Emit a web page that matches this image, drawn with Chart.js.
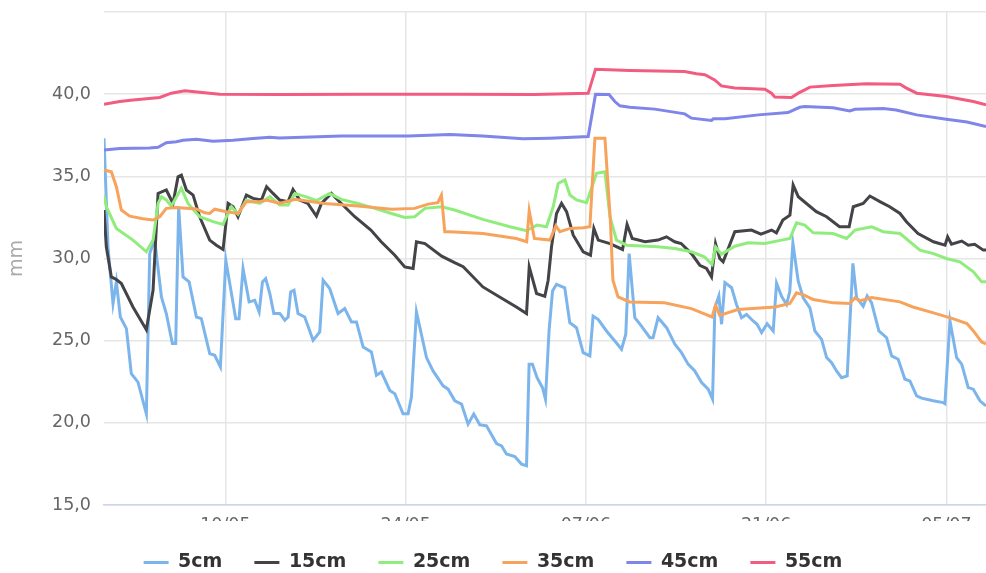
<!DOCTYPE html>
<html>
<head>
<meta charset="utf-8">
<script src="https://cdn.jsdelivr.net/npm/chart.js@4/dist/chart.umd.min.js"></script>
<style>
  html, body { margin: 0; padding: 0; background: #fff; }
  #box { width: 986px; height: 573px; }
</style>
</head>
<body>
<div id="box"><canvas id="grafico"></canvas></div>
<script>
// x = days since 01/05
var xMin = -0.43;
var xMax = 68.08;
var tickDays = [9, 23, 37, 51, 65];
var tickLabels = ["10/05", "24/05", "07/06", "21/06", "05/07"];
var yTicks = [15, 20, 25, 30, 35, 40, 45];

var labels = ["5cm", "15cm", "25cm", "35cm", "45cm", "55cm"];
var colors = ["#7cb5ec", "#434348", "#90ed7d", "#f7a35c", "#8085e9", "#f15c80"];

var days5 = [-0.43, -0.12, 0.27, 0.53, 0.84, 1.31, 1.69, 2.21, 2.86, 3.12, 3.51, 4.03, 4.41, 4.88, 5.14, 5.37, 5.71, 6.18, 6.75, 7.13,
  7.78, 8.17, 8.61, 9.03, 9.47, 9.8, 10.06, 10.37, 10.84, 11.28, 11.62, 11.88, 12.13, 12.45, 12.76, 13.22, 13.35, 13.61, 13.87, 14.07,
  14.33, 14.64, 15.16, 15.81, 16.33, 16.59, 17.1, 17.75, 18.27, 18.79, 19.18, 19.7, 20.34, 20.73, 21.12, 21.77, 22.16, 22.8, 23.19, 23.45,
  23.84, 24.62, 25.13, 25.91, 26.3, 26.82, 27.34, 27.85, 28.29, 28.76, 29.28, 30.06, 30.45, 30.83, 31.48, 32.0, 32.39, 32.59, 32.85, 33.21,
  33.63, 33.86, 34.14, 34.41, 34.72, 35.36, 35.75, 36.27, 36.79, 37.31, 37.56, 37.95, 38.6, 39.25, 39.77, 40.1, 40.36, 40.8, 41.32, 41.97,
  42.22, 42.61, 43.27, 43.91, 44.43, 44.94, 45.46, 45.99, 46.5, 46.84, 47.02, 47.33, 47.54, 47.8, 48.32, 48.7, 49.09, 49.48, 49.99, 50.3,
  50.65, 51.08, 51.55, 51.81, 52.2, 52.59, 52.84, 53.08, 53.49, 53.88, 54.4, 54.79, 55.31, 55.7, 56.09, 56.47, 56.86, 57.3, 57.74, 58.03,
  58.54, 58.85, 59.19, 59.76, 60.36, 60.75, 61.26, 61.78, 62.17, 62.69, 63.08, 63.98, 64.76, 64.89, 65.28, 65.8, 66.19, 66.7, 67.09, 67.61, 68.08];
var val5 = [37.32, 30.71, 27.26, 28.58, 26.44, 25.73, 22.99, 22.48, 20.55, 30.3, 31.12, 27.66, 26.65, 24.82, 24.82, 33.15, 28.88, 28.58, 26.44, 26.34,
  24.21, 24.11, 23.4, 29.9, 27.87, 26.34, 26.34, 29.39, 27.36, 27.46, 26.75, 28.58, 28.78, 27.87, 26.65, 26.65, 26.54, 26.24, 26.44, 27.97,
  28.07, 26.65, 26.44, 25.02, 25.53, 28.68, 28.17, 26.65, 26.95, 26.14, 26.14, 24.61, 24.31, 22.89, 23.09, 21.97, 21.77, 20.55, 20.55, 21.57,
  26.75, 23.97, 23.16, 22.25, 22.05, 21.34, 21.14, 19.92, 20.53, 19.88, 19.82, 18.74, 18.6, 18.1, 17.95, 17.49, 17.39, 23.57, 23.57, 22.75,
  22.14, 21.44, 25.59, 28.02, 28.43, 28.22, 26.09, 25.79, 24.27, 24.07, 26.5, 26.3, 25.59, 24.98, 24.48, 25.39, 30.3, 26.4, 25.89, 25.18,
  25.18, 26.4, 25.79, 24.78, 24.27, 23.57, 23.16, 22.45, 22.05, 21.44, 27.0, 27.72, 26.0, 28.53, 28.22, 27.2, 26.4, 26.6, 26.2, 26.0,
  25.49, 26.03, 25.59, 28.5, 27.7, 27.2, 28.0, 30.94, 28.63, 27.61, 27.0, 25.59, 25.08, 23.97, 23.66, 23.16, 22.75, 22.86, 29.7, 27.61,
  27.1, 27.72, 27.31, 25.59, 25.18, 24.07, 23.87, 22.65, 22.55, 21.64, 21.5, 21.34, 21.23, 21.17, 26.2, 23.97, 23.57, 22.14, 22.05, 21.34, 21.03];

var days15 = [-0.43, -0.25, 0.14, 0.53, 0.92, 1.82, 2.86, 3.38, 3.77, 4.41, 4.93, 5.32, 5.58, 5.97, 6.49, 7.0, 7.78, 8.3, 8.82, 9.21,
  9.6, 9.98, 10.63, 11.15, 11.8, 12.2, 12.7, 13.22, 13.87, 14.25, 14.77, 15.4, 16.07, 16.46, 17.23, 18.0, 19.05, 20.3, 21.1, 22.16,
  22.93, 23.58, 23.84, 24.5, 25.8, 26.8, 27.47, 29.0, 30.3, 31.6, 32.39, 32.6, 33.17, 33.81, 34.07, 34.33, 34.72, 35.11, 35.5, 36.02,
  36.79, 37.36, 37.62, 37.96, 38.87, 39.85, 40.2, 40.6, 41.6, 42.6, 43.26, 43.9, 44.4, 45.2, 45.85, 46.37, 46.76, 47.07, 47.4, 47.66,
  48.57, 49.86, 50.6, 51.42, 51.8, 52.3, 52.85, 53.1, 53.5, 54.9, 55.7, 56.7, 57.45, 57.77, 58.54, 59.06, 59.84, 60.6, 61.4, 61.9,
  62.8, 64.0, 64.9, 65.1, 65.4, 66.2, 66.7, 67.2, 67.87, 68.08];
var val15 = [32.95, 30.71, 28.88, 28.72, 28.48, 27.05, 25.67, 28.07, 33.96, 34.17, 33.35, 34.98, 35.08, 34.17, 33.86, 32.54, 31.12, 30.81, 30.55, 33.35,
  33.15, 32.54, 33.86, 33.66, 33.56, 34.37, 33.96, 33.56, 33.46, 34.2, 33.56, 33.35, 32.58, 33.35, 33.96, 33.35, 32.54, 31.73, 31.02, 30.2,
  29.49, 29.39, 31.02, 30.91, 30.14, 29.75, 29.5, 28.27, 27.66, 27.05, 26.65, 29.49, 27.87, 27.7, 28.68, 30.71, 32.74, 33.35, 32.85, 31.42,
  30.41, 30.2, 31.83, 31.12, 30.91, 30.55, 32.07, 31.22, 31.02, 31.12, 31.32, 31.02, 30.91, 30.3, 29.59, 29.39, 28.88, 30.91, 30.0, 29.8,
  31.63, 31.73, 31.48, 31.73, 31.56, 32.34, 32.64, 34.47, 33.76, 32.85, 32.54, 31.93, 31.93, 33.15, 33.35, 33.8, 33.46, 33.15, 32.74, 32.24,
  31.52, 31.02, 30.81, 31.32, 30.87, 31.06, 30.81, 30.87, 30.51, 30.51];

var days25 = [-0.43, -0.25, 0.53, 1.82, 2.86, 3.38, 3.77, 4.03, 4.41, 4.8, 5.58, 6.1, 7.0, 8.04, 8.82, 9.08, 9.47, 9.98, 10.63, 11.67,
  12.45, 13.22, 13.87, 14.4, 15.4, 16.07, 17.1, 18.0, 19.3, 20.6, 21.9, 22.93, 23.7, 24.5, 25.8, 26.8, 29.0, 31.1, 32.39, 33.2,
  33.94, 34.46, 34.85, 35.37, 35.76, 36.27, 37.05, 37.83, 38.48, 38.87, 39.38, 40.16, 42.6, 43.9, 45.2, 46.2, 46.8, 47.07, 47.53, 48.57,
  49.6, 50.9, 52.2, 52.85, 53.36, 54.0, 54.66, 56.2, 57.25, 57.9, 59.2, 60.1, 61.4, 62.95, 64.0, 65.0, 66.05, 67.1, 67.74, 68.08];
var val25 = [33.86, 33.15, 31.83, 31.12, 30.41, 31.12, 33.35, 33.76, 33.56, 33.19, 34.27, 33.35, 32.54, 32.24, 32.07, 32.54, 33.15, 32.7, 33.56, 33.35,
  33.76, 33.25, 33.25, 33.96, 33.72, 33.52, 33.96, 33.6, 33.35, 33.05, 32.74, 32.5, 32.54, 33.05, 33.15, 32.95, 32.38, 31.93, 31.69, 32.03,
  31.93, 33.15, 34.57, 34.78, 33.86, 33.56, 33.4, 35.18, 35.28, 32.54, 31.12, 30.81, 30.71, 30.61, 30.41, 30.1, 29.65, 30.71, 30.26, 30.75,
  30.96, 30.91, 31.12, 31.22, 32.17, 32.03, 31.56, 31.52, 31.22, 31.73, 31.93, 31.63, 31.52, 30.51, 30.3, 30.0, 29.8, 29.19, 28.58, 28.58];

var days35 = [-0.43, 0.14, 0.53, 0.92, 1.57, 2.6, 3.38, 3.9, 4.41, 5.19, 6.75, 7.4, 7.78, 8.17, 9.08, 9.98, 10.63, 11.67, 12.2, 13.22,
  14.4, 16.7, 19.3, 21.9, 23.7, 24.75, 25.5, 25.78, 26.04, 26.43, 29.0, 31.6, 32.4, 32.6, 33.0, 34.2, 34.67, 34.98, 35.76, 36.8,
  37.31, 37.7, 38.48, 38.9, 39.1, 39.5, 40.4, 43.1, 45.2, 46.8, 47.07, 47.4, 48.8, 51.7, 52.85, 53.36, 54.0, 54.66, 56.2, 57.5,
  57.9, 58.3, 59.2, 61.4, 62.4, 64.0, 65.5, 66.6, 67.1, 67.74, 68.08];
var val35 = [35.39, 35.28, 34.37, 32.95, 32.58, 32.42, 32.34, 32.54, 33.05, 33.11, 33.01, 32.78, 32.74, 33.0, 32.85, 32.74, 33.46, 33.46, 33.56, 33.35,
  33.6, 33.35, 33.19, 32.99, 33.05, 33.31, 33.4, 33.86, 31.63, 31.63, 31.52, 31.22, 31.02, 32.9, 31.22, 31.12, 31.99, 31.63, 31.83, 31.87,
  31.93, 37.32, 37.32, 32.34, 28.68, 27.66, 27.36, 27.3, 26.95, 26.44, 27.15, 26.54, 26.89, 27.05, 27.26, 27.91, 27.76, 27.5, 27.3, 27.26,
  27.6, 27.42, 27.62, 27.36, 27.05, 26.69, 26.34, 26.04, 25.59, 24.92, 24.8];

var days45 = [-0.43, 0.79, 3.1, 3.77, 4.41, 5.19, 5.71, 6.75, 8.04, 9.6, 11.15, 12.45, 13.2, 18.0, 23.2, 26.43, 29.0, 32.1, 34.2, 37.18,
  37.75, 38.8, 39.25, 39.64, 40.4, 42.35, 44.68, 45.2, 46.76, 46.9, 47.8, 50.4, 52.7, 53.6, 54.0, 56.2, 57.5, 57.9, 60.1, 61.1,
  62.7, 65.0, 66.6, 68.08];
var val45 = [36.6, 36.7, 36.73, 36.77, 37.05, 37.11, 37.2, 37.26, 37.13, 37.2, 37.3, 37.38, 37.34, 37.46, 37.46, 37.54, 37.46, 37.28, 37.32, 37.42,
  40.0, 39.98, 39.55, 39.29, 39.2, 39.09, 38.8, 38.54, 38.4, 38.5, 38.5, 38.74, 38.88, 39.2, 39.25, 39.17, 38.98, 39.08, 39.13, 39.04,
  38.74, 38.48, 38.31, 38.03];

var days55 = [-0.43, 0.79, 1.82, 3.9, 4.8, 5.84, 7.0, 8.56, 13.2, 20, 27, 33, 37.18, 37.75, 40.4, 44.68, 45.59, 46.24, 47.0, 47.53,
  48.57, 50.9, 51.42, 51.68, 52.97, 53.5, 54.0, 54.4, 56.2, 58.8, 61.4, 61.9, 62.7, 65.0, 67.1, 68.08];
var val55 = [39.39, 39.55, 39.65, 39.8, 40.06, 40.2, 40.12, 40.0, 39.98, 40.0, 40.0, 39.98, 40.05, 41.52, 41.44, 41.38, 41.24, 41.18, 40.87, 40.5,
  40.37, 40.3, 40.06, 39.82, 39.8, 40.06, 40.26, 40.43, 40.53, 40.63, 40.61, 40.37, 40.06, 39.86, 39.55, 39.35];

var allDays = [days5, days15, days25, days35, days45, days55];
var allVals = [val5, val15, val25, val35, val45, val55];

function serie(i) {
  var pts = allDays[i].map(function(d, k) { return { x: d, y: allVals[i][k] }; });
  return {
    label: labels[i],
    data: pts,
    borderColor: colors[i],
    backgroundColor: colors[i],
    borderWidth: 3,
    pointRadius: 0,
    pointHoverRadius: 0,
    tension: 0,
    order: labels.length - i
  };
}

var datasets = [];
for (var i = 0; i < labels.length; i++) {
  datasets.push(serie(i));
}

Chart.defaults.font.family = "'DejaVu Sans', sans-serif";

window.onload = function() {
  var ctx = document.getElementById("grafico").getContext("2d");
  var myChart = new Chart(ctx, {
    type: "line",
    data: { datasets: datasets },
    options: {
      responsive: true,
      maintainAspectRatio: false,
      animation: false,
      layout: { padding: { top: 12, right: 0, left: 0, bottom: -9 } },
      plugins: {
        tooltip: { enabled: false },
        legend: {
          position: "bottom",
          labels: {
            usePointStyle: true,
            pointStyle: "line",
            pointStyleWidth: 25,
            padding: 32,
            color: "#333333",
            font: { size: 19, weight: "bold" },
            sort: function(a, b) { return a.datasetIndex - b.datasetIndex; }
          }
        }
      },
      scales: {
        x: {
          type: "linear",
          min: xMin,
          max: xMax,
          afterBuildTicks: function(scale) {
            scale.ticks = tickDays.map(function(v) { return { value: v }; });
          },
          afterFit: function(scale) { scale.height = 16; },
          ticks: {
            autoSkip: false,
            maxRotation: 0,
            padding: 10,
            color: "#666666",
            font: { size: 17.5 },
            callback: function(v, idx) { return tickLabels[idx]; }
          },
          grid: { color: "#e6e6e6", lineWidth: 1.5, drawTicks: false },
          border: { color: "#ccd6eb", width: 1.5 }
        },
        y: {
          min: yTicks[0],
          max: yTicks[yTicks.length - 1],
          afterBuildTicks: function(scale) {
            scale.ticks = yTicks.map(function(v) { return { value: v }; });
          },
          afterFit: function(scale) {
            scale.width = 104;
            scale.paddingTop = 0;
            scale.paddingBottom = 0;
          },
          ticks: {
            padding: 13,
            color: "#666666",
            font: { size: 17.5 },
            callback: function(v) { return v === 45 ? "" : v.toFixed(1).replace(".", ","); }
          },
          grid: { color: "#e6e6e6", lineWidth: 1.5, drawTicks: false },
          border: { display: false },
          title: {
            display: true,
            text: "mm",
            color: "#aaaaaa",
            font: { size: 19 },
            padding: { top: 6, bottom: 0 }
          }
        }
      }
    }
  });
};
</script>
</body>
</html>
